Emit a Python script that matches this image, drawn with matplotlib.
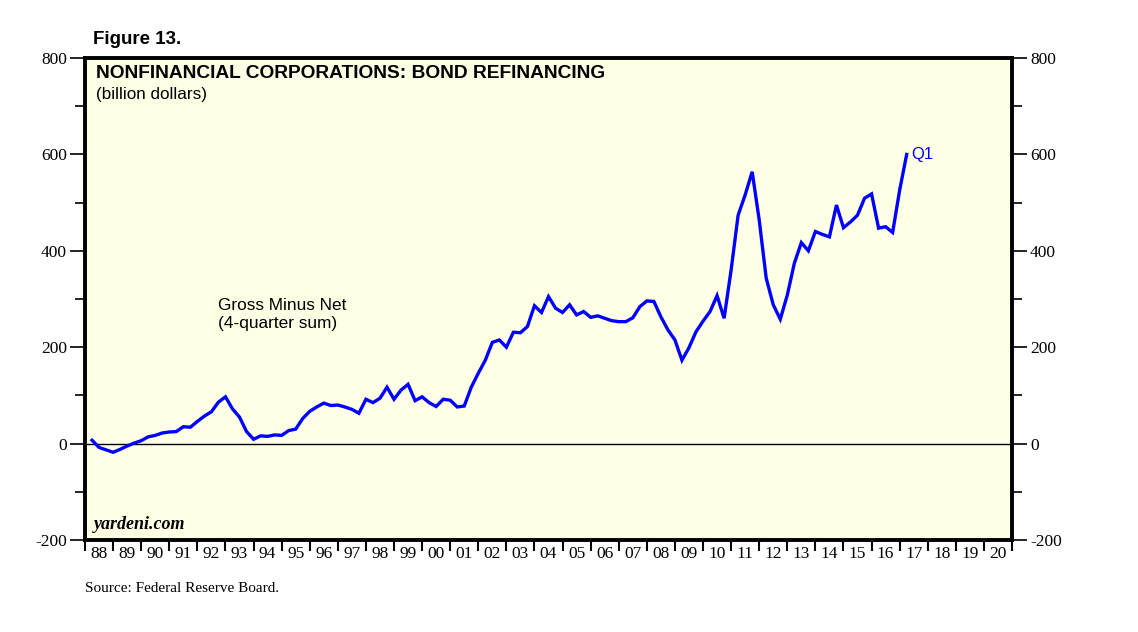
import matplotlib.pyplot as plt
import matplotlib.ticker as mticker
import numpy as np

plt.rcParams['axes.unicode_minus'] = False

# quarterly data, 1988Q1 .. 2017Q1 (billion dollars, 4-quarter sum)
start_year = 1988
values = [7, -8, -13, -18, -12, -5, 1, 6, 14, 17, 22, 24, 25, 35, 34, 46,
          57, 66, 86, 97, 72, 55, 25, 9, 16, 15, 18, 17, 27, 30, 52, 67,
          76, 84, 79, 80, 76, 71, 63, 92, 85, 94, 117, 92, 111, 123, 89, 97,
          85, 77, 92, 90, 76, 78, 117, 146, 173, 210, 215, 200, 231, 230, 243, 286,
          272, 305, 281, 272, 288, 267, 274, 262, 265, 260, 255, 253, 253, 261, 284, 296,
          295, 263, 236, 215, 173, 199, 232, 254, 274, 307, 260, 360, 474, 516, 564, 464,
          343, 288, 258, 308, 374, 417, 400, 440, 434, 429, 495, 448, 460, 474, 509, 518,
          447, 450, 438, 526, 600]
years = np.arange(1988, 2021)
year_labels = ['%02d' % (y % 100) for y in years]

t = start_year + 0.25 + 0.25 * np.arange(len(values))

fig = plt.figure(figsize=(11.38, 6.32), dpi=100)
ax = fig.add_axes([0.0747, 0.1456, 0.8146, 0.7626])
ax.set_facecolor('#FFFFE6')

ax.plot(t, values, color='#0000FF', lw=2.4, solid_joinstyle='miter', zorder=3)
ax.axhline(0, color='black', lw=1.0, zorder=2)

ax.set_xlim(1988, 2021)
ax.set_ylim(-200, 800)

serif = 'Liberation Serif'
ax.yaxis.set_major_locator(mticker.MultipleLocator(200))
ax.yaxis.set_minor_locator(mticker.MultipleLocator(100))
ax.tick_params(axis='y', which='major', direction='out', length=11, width=1.2,
               left=True, right=True, labelleft=True, labelright=True, labelsize=12.5, pad=2)
ax.tick_params(axis='y', which='minor', direction='out', length=7, width=1.2,
               left=True, right=True)
for lab in ax.get_yticklabels():
    lab.set_fontfamily(serif)

# year ticks at boundaries, labels in the middle of each year
ax.set_xticks(np.arange(1988, 2022), minor=False)
ax.set_xticklabels([])
ax.set_xticks(years + 0.5, minor=True)
ax.set_xticklabels(year_labels, minor=True, fontfamily=serif, fontsize=12.5)
ax.tick_params(axis='x', which='major', direction='out', length=8, width=1.5)
ax.tick_params(axis='x', which='minor', length=0, pad=4)

for s in ax.spines.values():
    s.set_linewidth(2.8)

fig.text(0.0817, 0.924, 'Figure 13.', fontsize=13.5, fontweight='bold',
         family='Liberation Sans', va='bottom')
ax.text(0.012, 0.985, 'NONFINANCIAL CORPORATIONS: BOND REFINANCING', transform=ax.transAxes,
        fontsize=13.8, fontweight='bold', family='Liberation Sans', va='top')
ax.text(0.012, 0.94, '(billion dollars)', transform=ax.transAxes,
        fontsize=12.3, family='Liberation Sans', va='top')
ax.text(1992.73, 267, 'Gross Minus Net\n(4-quarter sum)', fontsize=12.4,
        family='Liberation Sans', va='center', linespacing=1.25)
ax.text(t[-1] + 0.15, values[-1], 'Q1', color='#0000FF', fontsize=12,
        family='Liberation Sans', va='center')
ax.text(0.01, 0.015, 'yardeni.com', transform=ax.transAxes, fontsize=13,
        fontweight='bold', style='italic', family=serif, va='bottom')
fig.text(0.0747, 0.058, 'Source: Federal Reserve Board.', fontsize=11,
         family=serif, va='bottom')

fig.savefig('out.png', dpi=100)
